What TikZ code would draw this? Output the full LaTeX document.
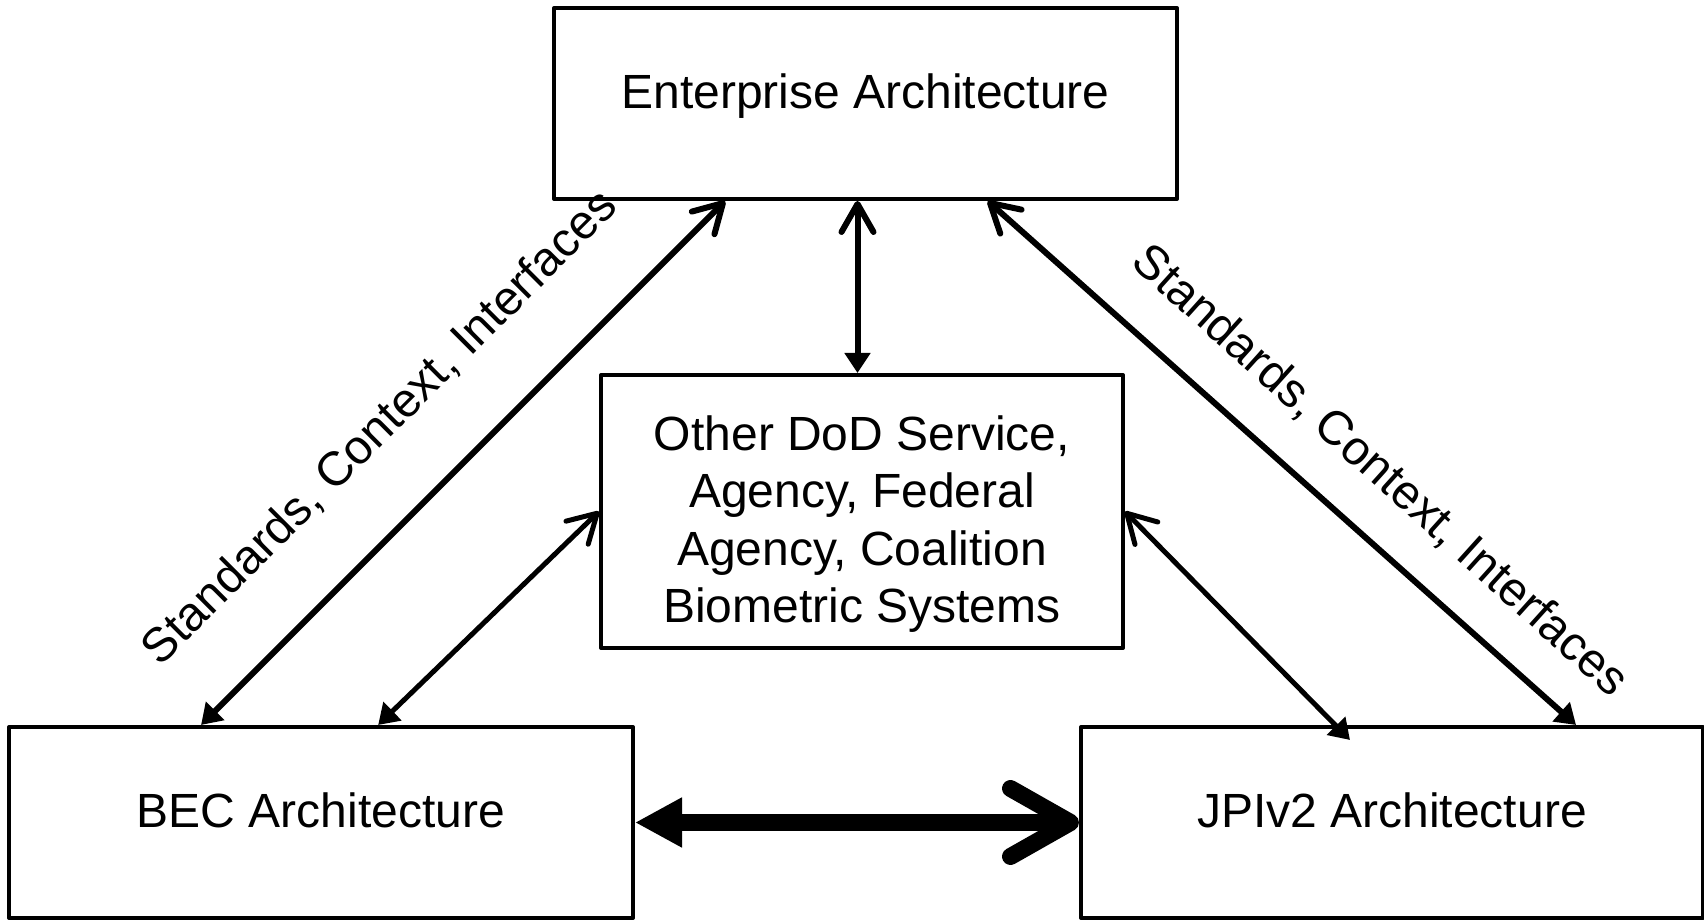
\documentclass[tikz,border=0pt]{standalone}
\usepackage{fontspec}
\setmainfont{Liberation Sans}
\usetikzlibrary{arrows.meta,calc}
\begin{document}
\begin{tikzpicture}[x=0.5pt,y=0.5pt, line join=round, font=\fontsize{24}{28.6}\selectfont,
	box/.style={draw, line width=2pt, inner sep=0pt, align=center},
	one/.style={text height=0.75em, text depth=0.25em},
	link/.style={line width=3pt, {Triangle[length=10pt,width=12.5pt]}-{Straight Barb[length=14pt,width=16pt,round]}},
	wide/.style={line width=8.5pt, {Triangle[length=23.5pt,width=23.5pt]}-{Straight Barb[length=30pt,width=34pt,round]}}]
	\useasboundingbox (0,0) rectangle (1704,920);
	\node[box, one, minimum width=311.5pt, minimum height=95.5pt] (ea) at (865.5,816.5) {Enterprise Architecture};
	\node[box, minimum width=261pt, minimum height=136.5pt] (other) at (862,408.5) {\rule{0pt}{30pt}Other DoD Service,\\Agency, Federal\\Agency, Coalition\\Biometric Systems};
	\node[box, one, minimum width=312pt, minimum height=95.5pt] (bec) at (321,97.5) {BEC Architecture};
	\node[box, one, minimum width=311pt, minimum height=95.5pt] (jpi) at (1392,97.5) {JPIv2 Architecture};
	\coordinate (vtop) at ([xshift=-4pt]ea.south);
	% links to the enterprise box
	\draw[link] ($(bec.north west)!0.309!(bec.north east)$) -- ($(ea.south west)!0.276!(ea.south east)$);
	\draw[link] ($(jpi.north west)!0.794!(jpi.north east)$) -- ($(ea.south west)!0.695!(ea.south east)$);
	\draw[link] (other.north -| vtop) -- (vtop);
	% links to the middle box
	\draw[link, line width=2.5pt] ($(bec.north west)!0.591!(bec.north east)$) -- (other.west);
	\draw[link, line width=2.5pt] ([xshift=135.5pt,yshift=-7.5pt]jpi.north west) -- (other.east);
	\draw[wide] (bec.east) -- (jpi.west);
	\node[rotate=45] (lbl) at (380,492) {Standards, Context, Interfaces};
	\node[rotate=-42] (lbr) at (1380,449) {Standards, Context, Interfaces};
\end{tikzpicture}
\end{document}
